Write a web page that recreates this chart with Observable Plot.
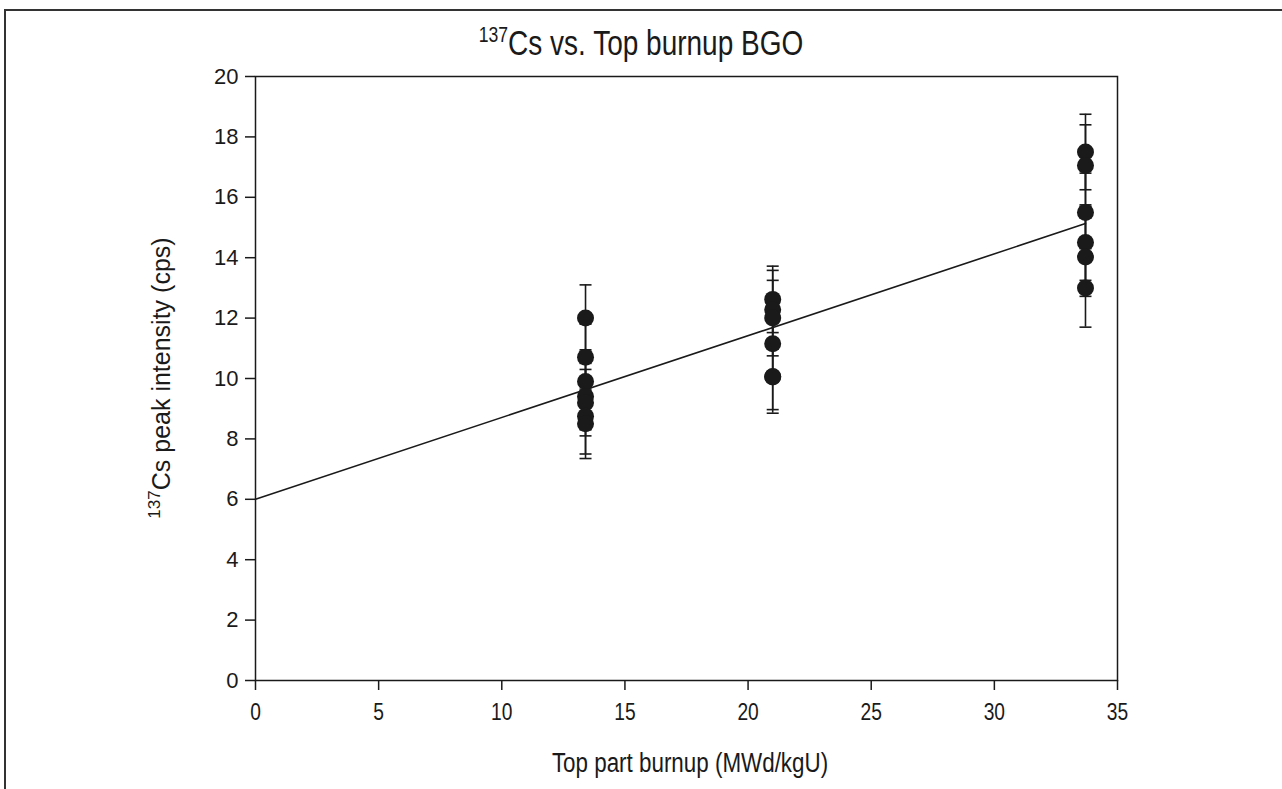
<!DOCTYPE html>
<html>
<head>
<meta charset="utf-8">
<script src="https://cdn.jsdelivr.net/npm/d3@7"></script>
<script src="https://cdn.jsdelivr.net/npm/@observablehq/plot@0.6"></script>
<style>
  html, body { margin: 0; padding: 0; background: #fff; }
  #wrap { position: relative; width: 1282px; height: 789px; overflow: hidden; }
  #frame { position: absolute; left: 4px; top: 9px; width: 1400px; height: 900px;
           border-left: 2px solid #333; border-top: 2px solid #333; }
  #chart { position: absolute; left: 0; top: 0; }
</style>
</head>
<body>
<div id="wrap"><div id="frame"></div><div id="chart"></div></div>
<script>
// ---- data ----
const clusterX = [13.4, 21.0, 33.7];           // top part burnup (MWd/kgU)
const cs1  = [12.0, 10.7, 9.9, 9.4, 9.2, 8.75, 8.5];
const err1 = [1.1, 1.1, 1.05, 1.1, 1.1, 1.25, 1.15];
const cs2  = [12.62, 12.28, 12.0, 11.15, 10.07, 10.05];
const err2 = [1.1, 1.3, 1.25, 1.1, 1.1, 1.2];
const cs3  = [17.5, 17.05, 15.5, 14.5, 14.02, 13.0];
const err3 = [1.25, 1.35, 1.3, 1.25, 1.3, 1.3];
const fitX = [0, 33.7];                         // regression line end points
const fitY = [6.0, 15.13];
const xTicks = [0, 5, 10, 15, 20, 25, 30, 35];
const yTicks = [0, 2, 4, 6, 8, 10, 12, 14, 16, 18, 20];

const titleSup = "137", titleMain = "Cs vs. Top burnup BGO";
const yLabelSup = "137", yLabelMain = "Cs peak intensity (cps)";
const xLabel = "Top part burnup (MWd/kgU)";

// ---- build table ----
const rows = [];
[[cs1, err1], [cs2, err2], [cs3, err3]].forEach(([vals, errs], i) => {
  vals.forEach((v, j) => rows.push({x: clusterX[i], y: v, lo: v - errs[j], hi: v + errs[j]}));
});
const fit = fitX.map((x, i) => ({x, y: fitY[i]}));

const regular = '"Liberation Sans", Arial, Helvetica, sans-serif';
const ink = "#1a1a1a";
const squeeze = 0.8;

const cap = { draw(ctx) { ctx.moveTo(-6, 0); ctx.lineTo(6, 0); } };

const plot = Plot.plot({
  width: 1282, height: 789,
  marginLeft: 255, marginRight: 165, marginTop: 76, marginBottom: 109,
  x: {domain: [0, 35]},
  y: {domain: [0, 20]},
  style: {background: "transparent", color: ink, fontFamily: regular},
  marks: [
    Plot.axisX({ticks: xTicks, tickSize: 10, tickPadding: 12, fontSize: 24,
                stroke: ink, strokeWidth: 1.5, label: null}),
    Plot.axisY({ticks: yTicks, tickSize: 10, tickPadding: 7, fontSize: 22,
                stroke: ink, strokeWidth: 1.5, label: null}),
    Plot.frame({stroke: ink, strokeWidth: 1.5}),
    Plot.line(fit, {x: "x", y: "y", stroke: ink, strokeWidth: 1.6}),
    Plot.ruleX(rows, {x: "x", y1: "lo", y2: "hi", stroke: ink, strokeWidth: 1.6}),
    Plot.dot(rows, {x: "x", y: "lo", symbol: cap, fill: "none", stroke: ink, strokeWidth: 1.6}),
    Plot.dot(rows, {x: "x", y: "hi", symbol: cap, fill: "none", stroke: ink, strokeWidth: 1.6}),
    Plot.dot(rows, {x: "x", y: "y", r: 8.5, fill: ink, stroke: "none"})
  ]
});
document.getElementById("chart").appendChild(plot);

const svg = d3.select(plot);
const sx = plot.scale("x"), sy = plot.scale("y");
const xMid = (sx.range[0] + sx.range[1]) / 2;
const yMid = (sy.range[0] + sy.range[1]) / 2;

// condensed look for x tick labels
svg.selectAll('g[aria-label="x-axis tick label"] text').attr("transform", function () {
  return (this.getAttribute("transform") || "") + ` scale(${squeeze},1)`;
});

// title
const t = svg.append("text").attr("transform", `translate(641,55) scale(${squeeze},1)`)
  .attr("text-anchor", "middle").attr("font-family", regular).attr("fill", ink);
t.append("tspan").attr("font-size", 22).attr("dy", -13).text(titleSup);
t.append("tspan").attr("font-size", 35).attr("dy", 13).text(titleMain);

// y label
const yl = svg.append("text").attr("transform", `translate(170,${yMid}) rotate(-90)`)
  .attr("text-anchor", "middle").attr("font-family", regular).attr("fill", ink);
yl.append("tspan").attr("font-size", 17).attr("dy", -10).text(yLabelSup);
yl.append("tspan").attr("font-size", 25).attr("dy", 10).text(yLabelMain);

// x label
svg.append("text").attr("transform", `translate(${xMid + 4},772) scale(${squeeze},1)`)
  .attr("text-anchor", "middle").attr("font-family", regular).attr("font-size", 28)
  .attr("fill", ink).text(xLabel);
</script>
</body>
</html>
